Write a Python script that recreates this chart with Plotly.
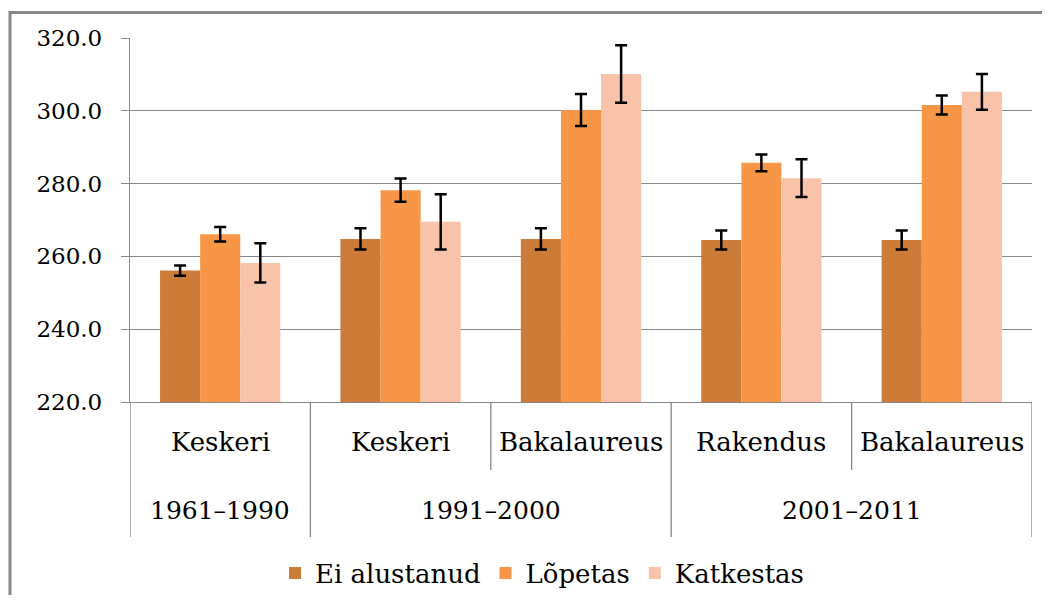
import plotly.graph_objects as go

# ---- data ----
periods = ["1961–1990", "1991–2000", "1991–2000", "2001–2011", "2001–2011"]
levels = ["Keskeri", "Keskeri", "Bakalaureus", "Rakendus", "Bakalaureus"]
series_names = ["Ei alustanud", "Lõpetas", "Katkestas"]
ei_alustanud = [256.1, 264.8, 264.8, 264.5, 264.5]
ei_alustanud_err = [1.4, 2.9, 2.9, 2.6, 2.6]
lopetas = [266.1, 278.2, 300.2, 285.7, 301.6]
lopetas_err = [2.0, 3.2, 4.4, 2.3, 2.6]
katkestas = [258.2, 269.5, 310.1, 281.5, 305.2]
katkestas_err = [5.4, 7.6, 7.9, 5.2, 4.9]
y_ticks = [220, 240, 260, 280, 300, 320]

colors = ["#CD7B38", "#F79646", "#F9C3A9"]
values = [ei_alustanud, lopetas, katkestas]
errors = [ei_alustanud_err, lopetas_err, katkestas_err]

OFF = 8  # page body margin on every side
W, H = 1050 - 2 * OFF, 603 - 2 * OFF
# target pixel positions in the page
PL, PR, PT, PB = 130, 1032, 38, 402
ML, MR, MT, MB = PL - OFF, W - (PR - OFF), PT - OFF, H - (PB - OFF)
PW, PH = W - ML - MR, H - MT - MB

def py(px):  # page pixel y -> paper y
    return (PB - px) / PH

def pxx(px):  # page pixel x -> paper x
    return (px - PL) / PW

FONT = "DejaVu Serif"
GRID = "#878787"

x = list(range(len(levels)))
fig = go.Figure()
for name, vals, errs, col in zip(series_names, values, errors, colors):
    fig.add_trace(go.Bar(
        x=x, y=vals, name=name, marker=dict(color=col, line=dict(width=0)),
        error_y=dict(type="data", array=errs, visible=True, color="black",
                     thickness=2.5, width=6),
    ))

annotations = []
for i, lab in enumerate(levels):
    annotations.append(dict(x=i, y=py(442), xref="x", yref="paper", text=lab,
                            showarrow=False, xanchor="center", yanchor="middle",
                            font=dict(family=FONT, size=26, color="black")))
groups = []
for i, p in enumerate(periods):
    if groups and groups[-1][0] == p:
        groups[-1][2] = i
    else:
        groups.append([p, i, i])
for p, a, b in groups:
    annotations.append(dict(x=(a + b) / 2, y=py(510), xref="x", yref="paper", text=p,
                            showarrow=False, xanchor="center", yanchor="middle",
                            font=dict(family=FONT, size=25, color="black")))

shapes = []
boundaries = set([g[1] for g in groups] + [groups[-1][2] + 1])
for i in range(len(levels) + 1):
    full = i in boundaries
    shapes.append(dict(type="line", xref="x", yref="paper", x0=i - 0.5, x1=i - 0.5,
                       y0=0, y1=py(537) if full else py(470),
                       line=dict(color=GRID, width=1.3)))
shapes.append(dict(type="rect", xref="paper", yref="paper",
                   x0=pxx(10), x1=pxx(1070), y0=py(620), y1=py(12.5),
                   line=dict(color=GRID, width=3), fillcolor="rgba(0,0,0,0)", layer="below"))

fig.update_layout(
    width=W, height=H,
    margin=dict(l=ML, r=MR, t=MT, b=MB, autoexpand=False),
    paper_bgcolor="white", plot_bgcolor="white",
    barmode="group", bargap=0.333, bargroupgap=0,
    showlegend=True,
    legend=dict(orientation="h", x=pxx(542), xanchor="center", y=py(573), yanchor="middle",
                font=dict(family=FONT, size=26, color="black"), itemwidth=30,
                traceorder="normal"),
    annotations=annotations, shapes=shapes,
    xaxis=dict(range=[-0.5, len(levels) - 0.5], showticklabels=False, showgrid=False,
               zeroline=False, showline=True, linecolor=GRID, linewidth=1.3, ticks=""),
    yaxis=dict(range=[220, 320], tickvals=y_ticks, tickformat=".1f", showgrid=True,
               gridcolor=GRID, gridwidth=1.3, zeroline=False, showline=True,
               linecolor=GRID, linewidth=1.3, ticks="outside", ticklen=8,
               tickcolor=GRID, tickwidth=1.3, ticklabelstandoff=14,
               tickfont=dict(family=FONT, size=23, color="black")),
)

fig.write_html("out.html")
